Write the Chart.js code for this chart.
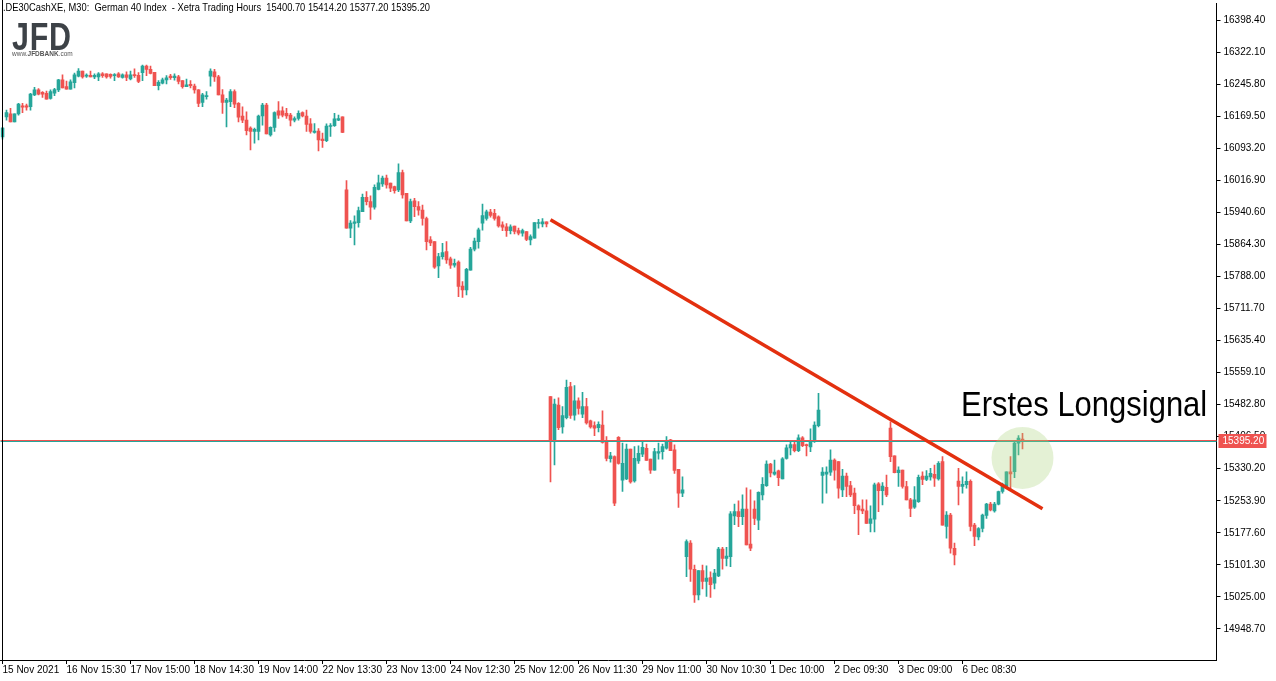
<!DOCTYPE html>
<html>
<head>
<meta charset="utf-8">
<title>.DE30CashXE, M30</title>
<script src="https://cdn.jsdelivr.net/npm/chart.js@4.4.1/dist/chart.umd.min.js"></script>
<style>
  html, body { margin: 0; padding: 0; background: #fff; }
  #wrap { position: relative; width: 1276px; height: 681px; overflow: hidden; }
  #chart { position: absolute; left: 0; top: 0; }
  .overlay { position: absolute; white-space: nowrap; line-height: 1; font-family: 'Liberation Sans', Arial, sans-serif; }
  #header { left: 3px; top: 2px; font-size: 10.5px; color: #000; transform: scaleX(0.89); transform-origin: 0 0; }
  #logo { left: 12px; top: 17px; font-size: 39px; font-weight: 700; color: #3d4247; letter-spacing: 1px; transform: scaleX(0.78); transform-origin: 0 0; }
  #logoUrl { left: 12px; top: 51px; font-size: 6.5px; color: #555; }
  #note { left: 961px; top: 386px; font-size: 35px; color: #000; transform: scaleX(0.885); transform-origin: 0 0; }
</style>
</head>
<body>
<div id="wrap">
  <canvas id="chart" width="1276" height="681"></canvas>
  <div class="overlay" id="header">.DE30CashXE, M30:&nbsp; German 40 Index&nbsp; - Xetra Trading Hours&nbsp; 15400.70 15414.20 15377.20 15395.20</div>
  <div class="overlay" id="logo">JFD</div>
  <div class="overlay" id="logoUrl">www.<b>JFDBANK</b>.com</div>
  <div class="overlay" id="note">Erstes Longsignal</div>
</div>
<script>
// M30 candles of .DE30CashXE (German 40)
const opens = [
  16120,16168,16175,16156,16175,16194,16194,16192,16220,16232,16226,16224,16212,16224,16232,16256,
  16240,16234,16249,16265,16277,16265,16267,16263,16263,16270,16270,16269,16266,16270,16262,16268,
  16258,16268,16267,16273,16289,16281,16274,16242,16248,16256,16265,16261,16263,16254,16240,16245,
  16241,16232,16202,16216,16265,16275,16263,16220,16202,16204,16228,16200,16170,16160,16141,16133,
  16133,16170,16196,16125,16143,16182,16182,16176,16172,16160,16164,16178,16170,16151,16131,16134,
  16115,16111,16145,16147,16160,16168,15994,15903,15914,15916,15942,15976,15966,15953,15995,16008,
  16022,16010,16002,15994,16035,15986,15920,15968,15954,15946,15926,15875,15871,15813,15835,15847,
  15830,15815,15822,15765,15756,15803,15853,15871,15915,15926,15941,15938,15930,15911,15906,15897,
  15908,15897,15891,15895,15875,15879,15914,15913,15918,15502,15395,15482,15430,15452,15526,15458,
  15492,15460,15478,15444,15433,15428,15434,15395,15354,15359,15405,15303,15306,15377,15301,15349,
  15365,15379,15353,15327,15367,15371,15379,15399,15375,15329,15272,15121,15153,15091,15030,15088,
  15062,15071,15058,15075,15139,15117,15121,15218,15228,15216,15234,15151,15234,15208,15268,15290,
  15341,15317,15325,15306,15355,15380,15388,15373,15404,15388,15382,15396,15433,15314,15317,15322,
  15351,15347,15280,15313,15290,15272,15242,15234,15230,15200,15210,15294,15278,15286,15427,15361,
  15321,15327,15288,15256,15239,15252,15313,15305,15311,15317,15306,15347,15193,15220,15141,15301,
  15288,15292,15300,15196,15168,15188,15219,15246,15230,15246,15276,15288,15323,15323,15391,15400.7
];
const highs = [
  16143,16184,16188,16175,16200,16200,16198,16224,16238,16235,16228,16229,16232,16236,16257,16268,
  16253,16256,16272,16283,16277,16270,16277,16270,16273,16273,16270,16270,16271,16273,16270,16275,
  16277,16282,16273,16291,16291,16289,16274,16254,16260,16266,16269,16270,16267,16254,16258,16254,
  16246,16233,16224,16228,16282,16281,16267,16233,16212,16233,16232,16202,16192,16180,16144,16141,
  16172,16200,16200,16144,16180,16204,16192,16188,16176,16168,16182,16180,16184,16164,16152,16140,
  16129,16151,16152,16176,16172,16168,16016,15921,15932,15953,15984,15990,15980,16006,16029,16027,
  16029,16010,16003,16056,16041,15986,15972,15974,15966,15958,15929,15883,15871,15843,15867,15871,
  15834,15829,15825,15776,15807,15857,15879,15903,15960,15946,15948,15948,15932,15918,15914,15911,
  15908,15903,15901,15895,15887,15916,15924,15926,15918,15502,15496,15499,15478,15541,15536,15528,
  15499,15512,15498,15446,15442,15442,15468,15407,15369,15361,15407,15391,15389,15377,15383,15385,
  15395,15389,15353,15379,15391,15389,15407,15400,15387,15329,15311,15161,15159,15101,15088,15101,
  15099,15085,15091,15143,15143,15143,15228,15246,15254,15268,15285,15280,15254,15275,15309,15349,
  15343,15351,15327,15357,15387,15395,15395,15411,15407,15389,15425,15442,15510,15333,15335,15375,
  15354,15347,15329,15320,15300,15284,15244,15256,15256,15242,15296,15297,15297,15315,15442,15361,
  15335,15327,15300,15260,15288,15315,15323,15326,15331,15339,15347,15359,15228,15224,15153,15331,
  15311,15323,15304,15200,15190,15222,15248,15250,15250,15277,15296,15323,15359,15395,15409,15414.2
];
const lows = [
  16115,16160,16156,16156,16172,16178,16184,16184,16218,16220,16214,16210,16210,16218,16228,16237,
  16234,16234,16237,16263,16260,16262,16263,16259,16254,16262,16260,16260,16254,16262,16260,16254,
  16256,16262,16249,16254,16266,16270,16242,16232,16246,16246,16257,16255,16246,16236,16240,16237,
  16224,16192,16192,16210,16241,16252,16220,16176,16144,16192,16190,16156,16154,16125,16089,16105,
  16113,16148,16127,16122,16133,16164,16168,16164,16146,16156,16160,16168,16133,16129,16129,16087,
  16095,16109,16121,16145,16159,16130,15903,15880,15863,15905,15942,15958,15924,15948,15994,16002,
  15998,15990,15986,15990,15974,15920,15916,15930,15934,15910,15851,15861,15807,15785,15829,15819,
  15807,15810,15740,15738,15744,15803,15849,15855,15898,15922,15929,15922,15905,15897,15883,15889,
  15889,15887,15884,15873,15863,15879,15903,15906,15906,15299,15339,15423,15415,15449,15450,15446,
  15460,15452,15436,15427,15409,15418,15391,15349,15346,15242,15341,15276,15304,15296,15298,15343,
  15359,15350,15319,15327,15353,15353,15377,15373,15319,15238,15264,15073,15062,15012,15018,15044,
  15026,15024,15044,15073,15091,15099,15097,15197,15192,15197,15149,15135,15197,15185,15256,15288,
  15311,15315,15290,15306,15353,15363,15370,15371,15383,15361,15371,15393,15430,15248,15272,15314,
  15303,15260,15264,15264,15264,15223,15173,15223,15200,15180,15180,15228,15244,15264,15347,15320,
  15288,15284,15256,15216,15236,15250,15292,15302,15303,15288,15303,15196,15165,15129,15101,15244,
  15272,15284,15182,15147,15161,15180,15212,15230,15227,15244,15272,15284,15280,15309,15363,15377.2
];
const closes = [
  16141,16178,16156,16175,16198,16191,16191,16222,16232,16222,16222,16210,16228,16233,16256,16237,
  16234,16251,16268,16277,16263,16267,16263,16267,16270,16266,16263,16264,16268,16263,16268,16262,
  16268,16266,16252,16289,16281,16271,16242,16250,16256,16261,16261,16265,16252,16240,16244,16242,
  16232,16200,16220,16218,16277,16263,16220,16202,16208,16228,16198,16167,16160,16135,16133,16138,
  16170,16196,16127,16143,16178,16172,16172,16170,16160,16164,16176,16170,16150,16133,16134,16113,
  16111,16146,16147,16163,16164,16131,15903,15915,15918,15945,15976,15966,15953,16000,16011,16022,
  16006,15998,15992,16035,15982,15920,15966,15954,15946,15926,15871,15868,15810,15835,15845,15827,
  15815,15819,15764,15756,15805,15853,15872,15899,15933,15942,15933,15926,15908,15905,15897,15906,
  15895,15891,15897,15876,15883,15916,15916,15918,15913,15395,15484,15428,15457,15524,15457,15492,
  15474,15478,15439,15430,15427,15436,15393,15355,15361,15248,15343,15343,15377,15299,15355,15367,
  15381,15350,15327,15371,15371,15383,15395,15373,15326,15272,15280,15157,15091,15030,15088,15062,
  15070,15054,15082,15139,15117,15122,15223,15228,15216,15234,15149,15141,15212,15274,15293,15341,
  15320,15322,15309,15354,15380,15388,15373,15404,15385,15385,15396,15434,15470,15322,15322,15351,
  15327,15284,15313,15288,15268,15242,15232,15230,15200,15211,15292,15278,15289,15268,15359,15321,
  15327,15288,15256,15236,15256,15310,15305,15313,15319,15308,15343,15196,15220,15141,15125,15288,
  15293,15300,15193,15169,15188,15220,15246,15232,15246,15276,15292,15323,15318,15391,15403,15395.2
];

// time axis: one label every 16 bars
const timeLabels = [
  '15 Nov 2021', '16 Nov 15:30', '17 Nov 15:00', '18 Nov 14:30', '19 Nov 14:00', '22 Nov 13:30',
  '23 Nov 13:00', '24 Nov 12:30', '25 Nov 12:00', '26 Nov 11:30', '29 Nov 11:00', '30 Nov 10:30',
  '1 Dec 10:00', '2 Dec 09:30', '3 Dec 09:00', '6 Dec 08:30'
];
const priceTicks = [
  16398.40, 16322.10, 16245.80, 16169.50, 16093.20, 16016.90, 15940.60, 15864.30, 15788.00, 15711.70,
  15635.40, 15559.10, 15482.80, 15406.50, 15330.20, 15253.90, 15177.60, 15101.30, 15025.00, 14948.70
];
const lastPrice = 15395.20;
// drawn trend line (bar number, price) and the "long signal" marker
const trendLine = [{ bar: 137, price: 15923 }, { bar: 260, price: 15235 }];
const signalZone = [{ bar: 255, price: 15356 }];

const SLOTS = 304;          // bar slots on the time axis incl. the empty right margin
const BARS_PER_LABEL = 16;
const UP = '#26a69a';
const DOWN = '#ef5350';

// one unique category per bar slot, so points can be placed by bar number
const categories = Array.from({ length: SLOTS }, (_, i) => 'b' + i);
const candleColors = opens.map((o, i) => (closes[i] >= o ? UP : DOWN));
const wickData = lows.map((l, i) => [l, highs[i]]);
const bodyData = opens.map((o, i) => [o, closes[i]]);
const toPoint = (p) => ({ x: categories[p.bar], y: p.price });

const axisFont = { family: 'Liberation Sans', size: 10 };

// no label-overflow padding, the plot area is set by layout.padding only
function noScalePadding(scale) {
  scale.paddingTop = 0;
  scale.paddingBottom = 0;
  scale.paddingLeft = 0;
  scale.paddingRight = 0;
}

// horizontal price level (red with a teal line under it), drawn right after the candle bodies
const levelLine = {
  id: 'levelLine',
  afterDatasetDraw(chart, args) {
    if (args.index !== 1) return;
    const { ctx, chartArea } = chart;
    const y = Math.floor(chart.scales.y.getPixelForValue(lastPrice));
    ctx.save();
    ctx.fillStyle = DOWN;
    ctx.fillRect(chartArea.left, y - 1, chartArea.right - chartArea.left, 1);
    ctx.fillStyle = UP;
    ctx.fillRect(chartArea.left, y, chartArea.right - chartArea.left, 1);
    ctx.restore();
  }
};

// left frame line and the price tag on the right axis
const frameAndTag = {
  id: 'frameAndTag',
  afterDraw(chart) {
    const { ctx, chartArea } = chart;
    const yScale = chart.scales.y;
    ctx.save();
    ctx.fillStyle = '#000';
    ctx.fillRect(2, 0, 1, chartArea.bottom);
    const y = Math.floor(yScale.getPixelForValue(lastPrice));
    ctx.fillStyle = DOWN;
    ctx.fillRect(yScale.left + 2, y - 7, 48, 14);
    ctx.fillStyle = '#fff';
    ctx.font = '10px "Liberation Sans"';
    ctx.textBaseline = 'middle';
    ctx.fillText(lastPrice.toFixed(2), yScale.left + 6, y + 0.5);
    ctx.restore();
  }
};

new Chart(document.getElementById('chart'), {
  type: 'bar',
  data: {
    labels: categories,
    datasets: [
      {
        label: 'wicks',
        data: wickData,
        backgroundColor: candleColors,
        barThickness: 1,
        grouped: false,
        borderWidth: 0,
        order: 3
      },
      {
        label: 'bodies',
        data: bodyData,
        backgroundColor: candleColors,
        barThickness: 3,
        minBarLength: 1,
        grouped: false,
        borderWidth: 0,
        order: 2
      },
      {
        type: 'line',
        label: 'trend',
        data: trendLine.map(toPoint),
        borderColor: '#e3300f',
        borderWidth: 3.5,
        pointRadius: 0,
        order: 1
      },
      {
        type: 'bubble',
        label: 'signal',
        data: signalZone.map(toPoint),
        radius: 31,
        backgroundColor: 'rgba(165, 210, 115, 0.3)',
        borderWidth: 0,
        order: 0
      }
    ]
  },
  options: {
    responsive: false,
    animation: false,
    events: [],
    layout: { autoPadding: false, padding: { left: 0.5, top: 3, right: 0, bottom: 0 } },
    plugins: {
      legend: { display: false },
      tooltip: { enabled: false }
    },
    scales: {
      x: {
        type: 'category',
        offset: true,
        border: { display: true, color: '#000' },
        grid: { drawOnChartArea: false, drawTicks: true, tickLength: 4, color: '#000', offset: false },
        ticks: {
          autoSkip: false,
          maxRotation: 0,
          minRotation: 0,
          align: 'start',
          padding: 0,
          color: '#000',
          font: axisFont,
          callback: (value, index) =>
            index % BARS_PER_LABEL === 0 && timeLabels[index / BARS_PER_LABEL]
              ? timeLabels[index / BARS_PER_LABEL] : null
        },
        afterFit(scale) {
          scale.height = 21;
          noScalePadding(scale);
        }
      },
      y: {
        type: 'linear',
        position: 'right',
        min: 14874.9,
        max: 16438.9,
        border: { display: true, color: '#000' },
        grid: { drawOnChartArea: false, drawTicks: true, tickLength: 4, color: '#000' },
        ticks: {
          color: '#000',
          font: axisFont,
          padding: 3,
          callback: (v) => Number(v).toFixed(2)
        },
        afterBuildTicks(scale) { scale.ticks = priceTicks.map((v) => ({ value: v })); },
        afterFit(scale) {
          scale.width = 59.5;
          noScalePadding(scale);
        }
      }
    }
  },
  plugins: [levelLine, frameAndTag]
});
</script>
</body>
</html>
